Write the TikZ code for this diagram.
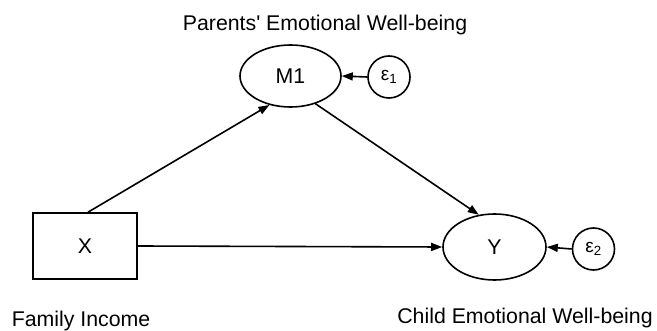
\documentclass[tikz,border=0pt]{standalone}
\usepackage{fontspec}
\setmainfont{Liberation Sans}
\usetikzlibrary{arrows.meta,shapes.geometric}
\begin{document}
\begin{tikzpicture}[x=1pt,y=-1pt,
  every node/.style={font=\fontsize{21.3}{25}\selectfont, inner sep=0pt},
  latent/.style={draw, ellipse, line width=1.6pt, minimum width=101pt, minimum height=62pt},
  observed/.style={draw, rectangle, line width=1.6pt, minimum width=104pt, minimum height=66pt},
  errc/.style={draw, circle, line width=1.6pt, minimum size=42pt, font=\fontsize{19}{22}\selectfont},
  lbl/.style={},
  path/.style={line width=1.6pt, -{Triangle[length=11pt,width=8pt]}}
]
\useasboundingbox (0,0) rectangle (657,331);
\node[observed] (X) at (85,246) {X};
\node[latent] (M) at (290.5,76) {M1};
\node[latent, minimum height=66pt, minimum width=103pt] (Y) at (494.5,247) {Y};
\node[errc] (e1) at (389,77) {ε\textsubscript{1}};
\node[errc] (e2) at (593.5,249) {ε\textsubscript{2}};
\node[lbl] (tM) at (325,25) {Parents\textquotesingle\ Emotional Well-being};
\node[lbl] (tX) at (81,321) {Family Income};
\node[lbl] (tY) at (525,318) {Child Emotional Well-being};
\draw[path] ([xshift=3pt]X.north) -- (M.234);
\draw[path] (M.312) -- (Y.116);
\draw[path] (X.east) -- (Y.west);
\draw[path] (e1.west) -- (M.east);
\draw[path] (e2.west) -- (Y.east);
\end{tikzpicture}
\end{document}
